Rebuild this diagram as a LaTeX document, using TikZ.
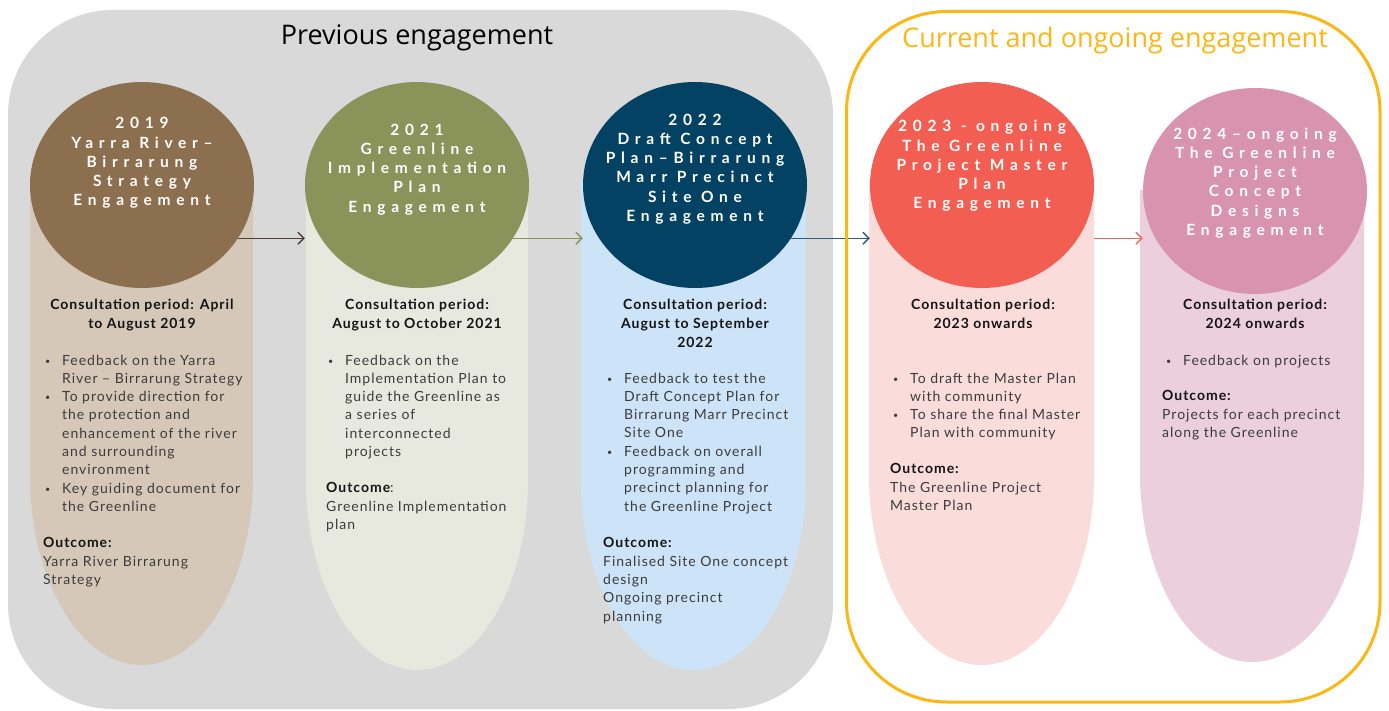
\documentclass[tikz,border=0pt]{standalone}
\usepackage{fontspec}
\usetikzlibrary{shapes.geometric,arrows.meta,calc}
\setmainfont{Lato}
\newfontfamily\bodyfont{Lato}[LetterSpace=7]
\newfontfamily\circfont{Lato}[LetterSpace=37]
\newfontfamily\titlefont{Open Sans}
\definecolor{graybg}{HTML}{D9D9D9}
\definecolor{orangeb}{HTML}{FDB714}
\definecolor{brownC}{HTML}{8B6F4E}
\definecolor{brownP}{HTML}{D5C8B9}
\definecolor{oliveC}{HTML}{89935A}
\definecolor{oliveP}{HTML}{E8E9DE}
\definecolor{navyC}{HTML}{044263}
\definecolor{navyP}{HTML}{CDE3F8}
\definecolor{redC}{HTML}{F25E52}
\definecolor{redP}{HTML}{FADCDB}
\definecolor{pinkC}{HTML}{D893AF}
\definecolor{pinkP}{HTML}{EBCFDC}
\definecolor{arrA}{HTML}{4D4038}
\definecolor{arrC}{HTML}{2E5E7E}
\definecolor{arrD}{HTML}{F0675B}
\definecolor{bodytext}{HTML}{3C3C3C}
\newcommand\bul{\makebox[17pt][l]{\raisebox{1pt}{\fontsize{9}{9}\selectfont\textbullet}}}
\newcommand\ind{\hspace*{17pt}}
\newcommand\pill[5]{\fill[#5] (#1,-#3) -- (#1,{-(#4-190)}) arc[start angle=180, end angle=360, x radius={(#2-#1)/2}, y radius=190] -- (#2,-#3) -- cycle;}
\tikzset{
  circ/.style={ellipse, minimum width=224pt, minimum height=206pt, inner sep=0pt, draw=none},
  ctext/.style={text=white, align=center, inner sep=0pt, font=\circfont\bfseries\fontsize{15.5}{19.2}\selectfont},
  head/.style={anchor=north, align=center, inner sep=0pt, text=black!92, font=\bodyfont\bfseries\fontsize{14}{19}\selectfont},
  body/.style={anchor=north west, align=left, inner sep=0pt, text=bodytext, font=\bodyfont\fontsize{14}{18.3}\selectfont},
  arr/.style={-{Straight Barb[length=6pt,width=12pt]}, line width=1.3pt},
  title/.style={font=\titlefont\fontsize{27}{31}\selectfont, inner sep=0pt}
}
\begin{document}
\begin{tikzpicture}[x=1pt,y=1pt]
\useasboundingbox (0,0) rectangle (1389,-711);
\fill[white] (0,0) rectangle (1389,-711);
% grey panel
\fill[graybg, rounded corners=105pt] (8,-10) rectangle (833,-709);
% pills
\pill{30}{253}{180}{665}{brownP}
\pill{306}{528}{180}{670}{oliveP}
\pill{581}{806}{180}{670}{navyP}
\pill{869}{1094}{180}{665}{redP}
\pill{1140}{1364}{190}{662}{pinkP}
% circles
\node[circ, fill=brownC] (c1) at (142,-185) {};
\node[circ, fill=oliveC] (c2) at (417,-185) {};
\node[circ, fill=navyC] (c3) at (695,-185) {};
\node[circ, fill=redC] (c4) at (982,-185) {};
\node[circ, fill=pinkC] (c5) at (1255,-191) {};
% arrows
\draw[arr, arrA] (c1.-29) -- (c1.-29 -| c2.west);
\draw[arr, oliveC] (c2.-29) -- (c2.-29 -| c3.west);
\draw[arr, arrC] (c3.-29) -- (c3.-29 -| c4.west);
\draw[arr, arrD] (c4.east |- c4.-29) -- (c4.-29 -| c5.west);
% orange frame
\draw[orangeb, line width=3pt, rounded corners=100pt] (846.5,-11.5) rectangle (1380,-702);
% titles
\node[title, text=black] (t1) at (417,-38) {Previous engagement};
\node[title, text=orangeb] (t2) at (1115,-40) {Current and ongoing engagement};
% circle texts
\node[ctext] (ct1) at (142,-163) {2019\\Yarra River–\\Birrarung\\Strategy\\Engagement};
\node[ctext] (ct2) at (417,-169.5) {2021\\Greenline\\Implementation\\Plan\\Engagement};
\node[ctext] (ct3) at (695,-169) {2022\\Draft Concept\\Plan–Birrarung\\Marr Precinct\\Site One\\Engagement};
\node[ctext] (ct4) at (982,-166) {2023 - ongoing\\The Greenline\\Project Master\\Plan\\Engagement};
\node[ctext] (ct5) at (1255,-183) {2024–ongoing\\The Greenline\\Project\\Concept\\Designs\\Engagement};
% column 1
\node[head] (h1) at (142,-298.5) {Consultation period: April\\to August 2019};
\node[body] (b1) at (45,-354.5) {\bul Feedback on the Yarra\\\ind River – Birrarung Strategy\\\bul To provide direction for\\\ind the protection and\\\ind enhancement of the river\\\ind and surrounding\\\ind environment\\\bul Key guiding document for\\\ind the Greenline};
\node[body] (o1) at (43,-537.5) {\textbf{\color{black!92}Outcome:}\\Yarra River Birrarung\\Strategy};
% column 2
\node[head] (h2) at (417,-298.5) {Consultation period:\\August to October 2021};
\node[body] (b2) at (328,-354.5) {\bul Feedback on the\\\ind Implementation Plan to\\\ind guide the Greenline as\\\ind a series of\\\ind interconnected\\\ind projects};
\node[body] (o2) at (326,-482.5) {\textbf{\color{black!92}Outcome}:\\Greenline Implementation\\plan};
% column 3
\node[head] (h3) at (695,-298.5) {Consultation period:\\August to September\\2022};
\node[body] (b3) at (607,-372.5) {\bul Feedback to test the\\\ind Draft Concept Plan for\\\ind Birrarung Marr Precinct\\\ind Site One\\\bul Feedback on overall\\\ind programming and\\\ind precinct planning for\\\ind the Greenline Project};
\node[body] (o3) at (603,-537.5) {\textbf{\color{black!92}Outcome:}\\Finalised Site One concept\\design\\Ongoing precinct\\planning};
% column 4
\node[head] (h4) at (983,-298.5) {Consultation period:\\2023 onwards};
\node[body] (b4) at (893,-372.5) {\bul To draft the Master Plan\\\ind with community\\\bul To share the final Master\\\ind Plan with community};
\node[body] (o4) at (890,-463.5) {\textbf{\color{black!92}Outcome:}\\The Greenline Project\\Master Plan};
% column 5
\node[head] (h5) at (1255,-298.5) {Consultation period:\\2024 onwards};
\node[body] (b5) at (1166,-354.5) {\bul Feedback on projects};
\node[body] (o5) at (1162,-390.5) {\textbf{\color{black!92}Outcome:}\\Projects for each precinct\\along the Greenline};
\end{tikzpicture}
\end{document}
